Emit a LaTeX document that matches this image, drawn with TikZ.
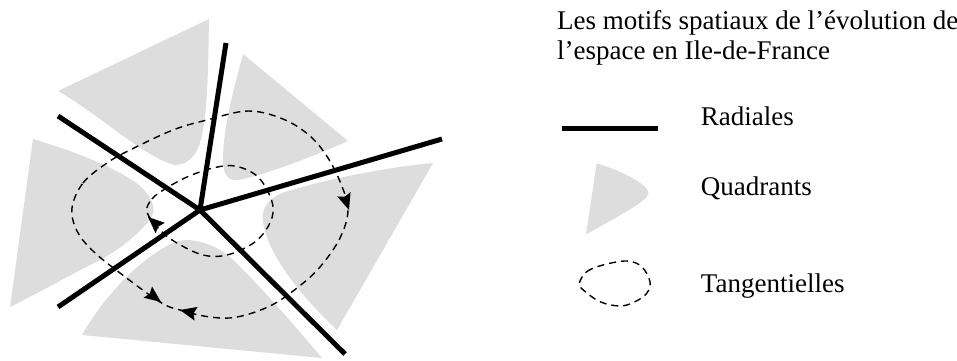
\documentclass[tikz,border=0pt]{standalone}
\usepackage{fontspec}
\setmainfont{Liberation Serif}
\usetikzlibrary{arrows.meta}
\definecolor{quadgray}{RGB}{221,221,221}
\begin{document}
\begin{tikzpicture}[x=1bp,y=-1bp,
  quad/.style={fill=quadgray,draw=none},
  radial/.style={line width=5bp},
  tangent/.style={line width=1.4bp,dash pattern=on 7bp off 5bp},
  arrowhd/.pic={\fill (0,0) -- (-16.5,7) -- (-14,0) -- (-16.5,-7) -- cycle;},
  lbl/.style={anchor=base west,inner sep=0pt,font=\fontsize{27bp}{30bp}\selectfont}]
\useasboundingbox (0,0) rectangle (957,360);

% quadrants
\fill[quad] (58,91) -- (209,19) .. controls (208,70) and (208,115) .. (200,143)
  .. controls (195,158) and (186,165) .. (175,165)
  .. controls (145,158) and (100,115) .. (58,91) -- cycle;
\fill[quad] (243,54) -- (348,141) .. controls (300,162) and (260,176) .. (238,180)
  .. controls (228,181) and (223,175) .. (223,160)
  .. controls (223,130) and (232,95) .. (243,54) -- cycle;
\fill[quad] (433,163) -- (337,330) .. controls (300,295) and (268,255) .. (263,222)
  .. controls (261,208) and (268,198) .. (285,192)
  .. controls (330,178) and (390,167) .. (433,163) -- cycle;
\fill[quad] (82,335) -- (322,358) .. controls (290,320) and (250,275) .. (230,257)
  .. controls (215,245) and (200,240) .. (185,240)
  .. controls (160,242) and (110,285) .. (82,335) -- cycle;
\fill[quad] (33,139) .. controls (70,150) and (110,165) .. (135,182)
  .. controls (150,193) and (155,205) .. (153,213)
  .. controls (150,225) and (120,250) .. (100,260)
  .. controls (70,275) and (40,292) .. (10,307) -- cycle;

% tangential loops
\draw[tangent] plot[smooth cycle,tension=0.6] coordinates {
  (72,208) (83,183) (107,163) (130,150) (173,130) (207,120) (248,111)
  (283,119) (310,136) (328,158) (341,184) (348,210) (340,238) (320,267)
  (297,288) (270,306) (237,317) (210,317) (180,310) (160,302) (120,273)
  (93,251) (77,231)};
\draw[tangent] plot[smooth cycle,tension=0.6] coordinates {
  (147,212) (152,199) (165,189) (187,177) (213,168) (235,166) (257,176)
  (270,196) (273,213) (266,230) (252,244) (227,255) (203,255) (177,243)
  (160,230)};

% arrowheads
\coordinate (a1e) at (349,210);
\coordinate (a2e) at (180,310);
\coordinate (a3e) at (161,302);
\coordinate (a4e) at (148,217);
\pic[rotate=-72] (ah1) at (a1e) {arrowhd};
\pic[rotate=167] (ah2) at (a2e) {arrowhd};
\pic[rotate=-37] (ah3) at (a3e) {arrowhd};
\pic[rotate=138] (ah4) at (a4e) {arrowhd};

% radials
\coordinate (C) at (200,210);
\coordinate (N) at (226,43);
\coordinate (NW) at (58,116);
\coordinate (E) at (442,139);
\coordinate (SW) at (58,307);
\coordinate (SE) at (345,354);
\draw[radial] (C) -- (N);
\draw[radial] (C) -- (NW);
\draw[radial] (C) -- (E);
\draw[radial] (C) -- (SW);
\draw[radial] (C) -- (SE);

% legend
\node[lbl] (title1) at (557,29.3) {Les motifs spatiaux de l’évolution de};
\node[lbl] (title2) at (557,59.5) {l’espace en Ile-de-France};

\coordinate (legA) at (562,128);
\coordinate (legB) at (658,128);
\draw[radial] (legA) -- (legB);
\node[lbl] (radiales) at (700.7,125) {Radiales};

\fill[quad] (596.7,163.3) .. controls (625,172) and (648,185) .. (648.5,193)
  .. controls (648,201) and (620,215) .. (586,234.5) -- cycle;
\node[lbl] (quadrants) at (700.7,195) {Quadrants};

\draw[tangent] plot[smooth cycle,tension=0.6] coordinates {
  (579.3,283.3) (586.7,271.7) (603,265) (626.7,261) (641.7,266.7) (650,281.7)
  (646.7,293.3) (635,301.7) (620,306) (600,301.7) (583.3,290)};
\node[lbl] (tangentielles) at (700.7,292.7) {Tangentielles};
\end{tikzpicture}
\end{document}
